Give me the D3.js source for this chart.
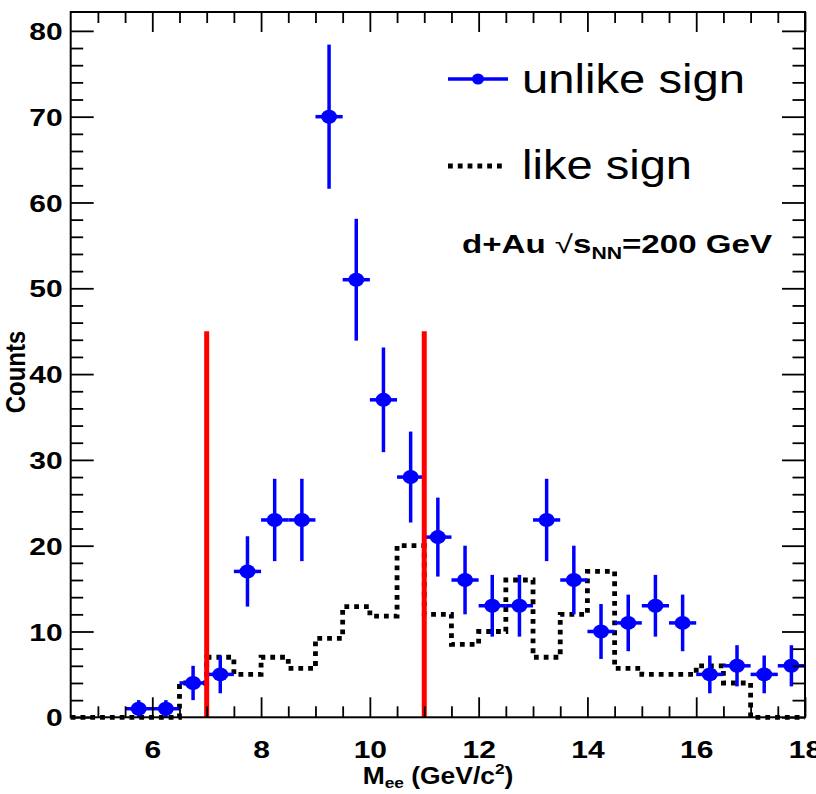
<!DOCTYPE html>
<html>
<head>
<meta charset="utf-8">
<script src="https://cdn.jsdelivr.net/npm/d3@7"></script>
<style>
  body { margin: 0; background: #fff; }
  text { font-family: "Liberation Sans", Arial, Helvetica, sans-serif; }
</style>
</head>
<body>
<svg id="chart" width="816" height="794"></svg>
<script>
// Di-electron invariant mass, d+Au at 200 GeV
const massCenters = [5.75, 6.25, 6.75, 7.25, 7.75, 8.25, 8.75, 9.25, 9.75, 10.25, 10.75, 11.25, 11.75,
                     12.25, 12.75, 13.25, 13.75, 14.25, 14.75, 15.25, 15.75, 16.25, 16.75, 17.25, 17.75];
const unlikeCounts = [1, 1, 4, 5, 17, 23, 23, 70, 51, 37, 28, 21, 16,
                      13, 13, 23, 16, 10, 11, 13, 11, 5, 6, 5, 6];
const unlikeErrors = [1, 1, 2, 2.2, 4.1, 4.8, 4.8, 8.4, 7.1, 6.1, 5.3, 4.6, 4,
                      3.6, 3.6, 4.8, 4, 3.2, 3.3, 3.6, 3.3, 2.2, 2.4, 2.2, 2.4];

const likeBinLow = [4.5, 5, 5.5, 6, 6.5, 7, 7.5, 8, 8.5, 9, 9.5, 10, 10.5, 11,
                    11.5, 12, 12.5, 13, 13.5, 14, 14.5, 15, 15.5, 16, 16.5, 17, 17.5];
const likeCounts = [0, 0, 0, 0, 4, 7, 5, 7, 5.7, 9.2, 12.9, 11.8, 20, 12,
                    8.5, 10, 16, 7, 12, 17, 5.7, 5, 5, 6, 4, 0, 0];
const binWidth = 0.5;

const cutMass = [7, 11];
const cutHeight = 45;

const xMajorTicks = [6, 8, 10, 12, 14, 16, 18];
const yMajorTicks = [0, 10, 20, 30, 40, 50, 60, 70, 80];
const xDomain = [4.5, 18];
const yDomain = [0, 82.2];

const svg = d3.select("#chart");
const frameL = 70.7, frameR = 805, frameT = 12, frameB = 717.3;

const x = d3.scaleLinear().domain(xDomain).range([frameL, frameR]);
const y = d3.scaleLinear().domain(yDomain).range([frameB, frameT]);

const xMinorTicks = d3.range(xDomain[0] + 0.5, xDomain[1], 0.5).filter(v => v % 2 !== 0);
const yMinorTicks = d3.range(2, 82, 2).filter(v => v % 10 !== 0);

const stretch = 1.25;

// like-sign histogram (dotted step outline)
const stepPts = [];
likeBinLow.forEach((lo, i) => {
  stepPts.push([lo, likeCounts[i]]);
  stepPts.push([lo + binWidth, likeCounts[i]]);
});
const stepLine = d3.line().x(d => x(d[0])).y(d => y(d[1]));
svg.append("path")
  .attr("d", stepLine(stepPts))
  .attr("fill", "none")
  .attr("stroke", "#000")
  .attr("stroke-width", 4.8)
  .attr("stroke-dasharray", "4.8 5");

// unlike-sign points with error bars
const pts = svg.append("g").attr("class", "unlike");
massCenters.forEach((m, i) => {
  const g = pts.append("g");
  g.append("line")
    .attr("x1", x(m)).attr("x2", x(m))
    .attr("y1", y(unlikeCounts[i] - unlikeErrors[i]))
    .attr("y2", y(unlikeCounts[i] + unlikeErrors[i]))
    .attr("stroke", "#0000ff").attr("stroke-width", 3.5);
  g.append("line")
    .attr("x1", x(m - binWidth / 2)).attr("x2", x(m + binWidth / 2))
    .attr("y1", y(unlikeCounts[i])).attr("y2", y(unlikeCounts[i]))
    .attr("stroke", "#0000ff").attr("stroke-width", 3.5);
  g.append("ellipse")
    .attr("cx", x(m)).attr("cy", y(unlikeCounts[i]))
    .attr("rx", 8).attr("ry", 7)
    .attr("fill", "#0000ff");
});

// mass window
svg.selectAll("line.cut").data(cutMass).join("line")
  .attr("class", "cut")
  .attr("x1", d => x(d)).attr("x2", d => x(d))
  .attr("y1", y(0)).attr("y2", y(cutHeight))
  .attr("stroke", "#ff0000").attr("stroke-width", 5);

// axes: ticks drawn inward on all four sides
function styleAxis(g) {
  g.select(".domain").remove();
  g.selectAll(".tick line").attr("stroke", "#000").attr("stroke-width", 1.8);
}
svg.append("g").attr("transform", `translate(0,${frameB})`)
  .call(d3.axisBottom(x).tickValues(xMinorTicks).tickSize(-11).tickFormat(""))
  .call(styleAxis);
const xAxis = svg.append("g").attr("transform", `translate(0,${frameB})`)
  .call(d3.axisBottom(x).tickValues(xMajorTicks).tickSize(-20).tickFormat(d3.format("d")))
  .call(styleAxis);
xAxis.selectAll(".tick text")
  .attr("y", 41).attr("dy", null)
  .attr("fill", "#000")
  .style("font-size", "24px").style("font-weight", "bold")
  .attr("transform", `scale(${stretch},1)`);

svg.append("g").attr("transform", `translate(0,${frameT})`)
  .call(d3.axisTop(x).tickValues(xMinorTicks).tickSize(-11).tickFormat(""))
  .call(styleAxis);
svg.append("g").attr("transform", `translate(0,${frameT})`)
  .call(d3.axisTop(x).tickValues(xMajorTicks).tickSize(-20).tickFormat(""))
  .call(styleAxis);

svg.append("g").attr("transform", `translate(${frameL},0)`)
  .call(d3.axisLeft(y).tickValues(yMinorTicks).tickSize(-12.5).tickFormat(""))
  .call(styleAxis);
const yAxis = svg.append("g").attr("transform", `translate(${frameL},0)`)
  .call(d3.axisLeft(y).tickValues(yMajorTicks).tickSize(-23).tickFormat(d3.format("d")))
  .call(styleAxis);
yAxis.selectAll(".tick text")
  .attr("x", -8 / stretch).attr("dy", "0.36em")
  .attr("fill", "#000")
  .style("font-size", "24px").style("font-weight", "bold")
  .attr("transform", `scale(${stretch},1)`);

svg.append("g").attr("transform", `translate(${frameR},0)`)
  .call(d3.axisRight(y).tickValues(yMinorTicks).tickSize(-12.5).tickFormat(""))
  .call(styleAxis);
svg.append("g").attr("transform", `translate(${frameR},0)`)
  .call(d3.axisRight(y).tickValues(yMajorTicks).tickSize(-23).tickFormat(""))
  .call(styleAxis);

// frame
svg.append("rect")
  .attr("x", frameL).attr("y", frameT)
  .attr("width", frameR - frameL).attr("height", frameB - frameT)
  .attr("fill", "none").attr("stroke", "#000").attr("stroke-width", 2);

// axis titles
const xTitle = svg.append("text")
  .attr("transform", `translate(438,784) scale(1.15,1)`)
  .attr("text-anchor", "middle")
  .style("font-size", "23px").style("font-weight", "bold");
xTitle.append("tspan").text("M");
xTitle.append("tspan").attr("dy", 4).style("font-size", "15px").text("ee");
xTitle.append("tspan").attr("dy", -4).text(" (GeV/c");
xTitle.append("tspan").attr("dy", -10).style("font-size", "15px").text("2");
xTitle.append("tspan").attr("dy", 10).text(")");

svg.append("text")
  .attr("transform", `translate(25,372) scale(1.15,1) rotate(-90)`)
  .attr("text-anchor", "middle")
  .style("font-size", "24px").style("font-weight", "bold")
  .text("Counts");

// legend
const leg = svg.append("g");
leg.append("line").attr("x1", 448).attr("x2", 508).attr("y1", 79).attr("y2", 79)
  .attr("stroke", "#0000ff").attr("stroke-width", 3.5);
leg.append("ellipse").attr("cx", 478).attr("cy", 79).attr("rx", 6).attr("ry", 5.5)
  .attr("fill", "#0000ff");
leg.append("text").attr("x", 522).attr("y", 93)
  .attr("textLength", 223).attr("lengthAdjust", "spacingAndGlyphs")
  .style("font-size", "40px").text("unlike sign");

leg.append("line").attr("x1", 448).attr("x2", 502).attr("y1", 166).attr("y2", 166)
  .attr("stroke", "#000").attr("stroke-width", 4.8).attr("stroke-dasharray", "4.8 5");
leg.append("text").attr("x", 522).attr("y", 179)
  .attr("textLength", 170).attr("lengthAdjust", "spacingAndGlyphs")
  .style("font-size", "40px").text("like sign");

const sys = leg.append("text").attr("x", 462).attr("y", 253)
  .attr("textLength", 310).attr("lengthAdjust", "spacingAndGlyphs")
  .style("font-size", "25px").style("font-weight", "bold");
sys.append("tspan").text("d+Au ");
sys.append("tspan").style("font-weight", "normal").text("\u221A");
sys.append("tspan").text("s");
sys.append("tspan").attr("dy", 6).style("font-size", "16px").text("NN");
sys.append("tspan").attr("dy", -6).text("=200 GeV");
</script>
</body>
</html>
